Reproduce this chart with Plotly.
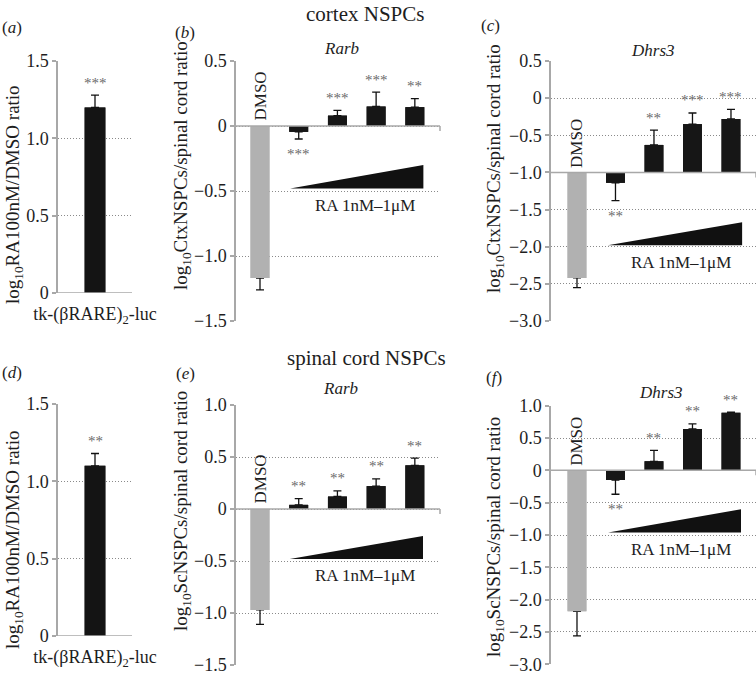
import plotly.graph_objects as go

W, H = 756, 676
FONT = "Liberation Serif, Times New Roman, serif"
TXT = "#1e1e1e"
AXIS = "#a8a8a8"
GRID = "#8a8a8a"

# ---------------- data ----------------
# (a)/(d) reporter assay, one bar each
luc_label = "tk-(βRARE)<sub>2</sub>-luc"
luc_ctx = [1.20]
luc_ctx_err = [0.08]
luc_ctx_stars = ["***"]
luc_sc = [1.10]
luc_sc_err = [0.08]
luc_sc_stars = ["**"]

# (b),(c),(e),(f): DMSO then RA 1nM -> 1uM (4 doses)
groups = ["DMSO", "RA dose 1", "RA dose 2", "RA dose 3", "RA dose 4"]
rarb_ctx = [-1.17, -0.045, 0.08, 0.15, 0.145]
rarb_ctx_err = [0.09, 0.055, 0.04, 0.11, 0.065]
rarb_ctx_stars = ["", "***", "***", "***", "**"]
dhrs3_ctx = [-2.42, -1.14, -0.63, -0.35, -0.28]
dhrs3_ctx_err = [0.13, 0.24, 0.20, 0.15, 0.13]
dhrs3_ctx_stars = ["", "**", "**", "***", "***"]
rarb_sc = [-0.97, 0.04, 0.12, 0.22, 0.42]
rarb_sc_err = [0.14, 0.06, 0.055, 0.07, 0.07]
rarb_sc_stars = ["", "**", "**", "**", "**"]
dhrs3_sc = [-2.18, -0.15, 0.14, 0.64, 0.89]
dhrs3_sc_err = [0.38, 0.22, 0.17, 0.08, 0.01]
dhrs3_sc_stars = ["", "**", "**", "**", "**"]

# dose wedges (corner points in category / value units)
wedge_rarb_ctx_x = [0.78, 4.22, 4.22]
wedge_rarb_ctx_y = [-0.48, -0.48, -0.30]
wedge_dhrs3_ctx_x = [0.80, 4.29, 4.29]
wedge_dhrs3_ctx_y = [-1.98, -1.98, -1.67]
wedge_rarb_sc_x = [0.77, 4.21, 4.21]
wedge_rarb_sc_y = [-0.48, -0.48, -0.26]
wedge_dhrs3_sc_x = [0.81, 4.26, 4.26]
wedge_dhrs3_sc_y = [-0.96, -0.96, -0.60]

# y ticks
ticks_luc = [0, 0.5, 1.0, 1.5]
ticktext_luc = ["0", "0.5", "1.0", "1.5"]
ticks_rarb_ctx = [-1.5, -1.0, -0.5, 0, 0.5]
ticktext_rarb_ctx = ["−1.5", "−1.0", "−0.5", "0", "0.5"]
ticks_dhrs3_ctx = [-3.0, -2.5, -2.0, -1.5, -1.0, -0.5, 0, 0.5]
ticktext_dhrs3_ctx = ["−3.0", "−2.5", "−2.0", "−1.5", "−1.0", "−0.5", "0", "0.5"]
ticks_rarb_sc = [-1.5, -1.0, -0.5, 0, 0.5, 1.0]
ticktext_rarb_sc = ["−1.5", "−1.0", "−0.5", "0", "0.5", "1.0"]
ticks_dhrs3_sc = [-3.0, -2.5, -2.0, -1.5, -1.0, -0.5, 0, 0.5, 1.0]
ticktext_dhrs3_sc = ["−3.0", "−2.5", "−2.0", "−1.5", "−1.0", "−0.5", "0", "0.5", "1.0"]

title_luc = "log<sub>10</sub>RA100nM/DMSO ratio"
title_ctx = "log<sub>10</sub>CtxNSPCs/spinal cord ratio"
title_sc = "log<sub>10</sub>ScNSPCs/spinal cord ratio"

# ---------------- layout per panel (pixel boxes) ----------------
panels = [
    dict(letter="a", vals=luc_ctx, errs=luc_ctx_err, stars=luc_ctx_stars, base=0.0,
         ticks=ticks_luc, ticktext=ticktext_luc, yr=[0, 1.5], xr=[-0.5, 0.5],
         box=(58, 132, 61, 293), ytitle=title_luc, tpos=(14, 195), lpos=(12, 27)),
    dict(letter="b", vals=rarb_ctx, errs=rarb_ctx_err, stars=rarb_ctx_stars, base=0.0,
         ticks=ticks_rarb_ctx, ticktext=ticktext_rarb_ctx, yr=[-1.5, 0.5], xr=[-0.62, 4.65],
         box=(236, 440, 61, 321), ytitle=title_ctx, tpos=(182, 166), lpos=(185, 33),
         gene="Rarb", gpos=(341, 49), wedge=(wedge_rarb_ctx_x, wedge_rarb_ctx_y)),
    dict(letter="c", vals=dhrs3_ctx, errs=dhrs3_ctx_err, stars=dhrs3_ctx_stars, base=-1.0,
         ticks=ticks_dhrs3_ctx, ticktext=ticktext_dhrs3_ctx, yr=[-3.0, 0.5], xr=[-0.675, 4.65],
         box=(551, 756, 61, 321), ytitle=title_ctx, tpos=(495, 169), lpos=(491, 25),
         gene="Dhrs3", gpos=(653, 50), wedge=(wedge_dhrs3_ctx_x, wedge_dhrs3_ctx_y)),
    dict(letter="d", vals=luc_sc, errs=luc_sc_err, stars=luc_sc_stars, base=0.0,
         ticks=ticks_luc, ticktext=ticktext_luc, yr=[0, 1.5], xr=[-0.5, 0.5],
         box=(58, 132, 404, 636), ytitle=title_luc, tpos=(14, 540), lpos=(12, 372)),
    dict(letter="e", vals=rarb_sc, errs=rarb_sc_err, stars=rarb_sc_stars, base=0.0,
         ticks=ticks_rarb_sc, ticktext=ticktext_rarb_sc, yr=[-1.5, 1.0], xr=[-0.62, 4.65],
         box=(236, 440, 405, 665), ytitle=title_sc, tpos=(182, 511), lpos=(185, 373),
         gene="Rarb", gpos=(340, 388), wedge=(wedge_rarb_sc_x, wedge_rarb_sc_y)),
    dict(letter="f", vals=dhrs3_sc, errs=dhrs3_sc_err, stars=dhrs3_sc_stars, base=0.0,
         ticks=ticks_dhrs3_sc, ticktext=ticktext_dhrs3_sc, yr=[-3.0, 1.0], xr=[-0.675, 4.65],
         box=(551, 756, 405.7, 664.3), ytitle=title_sc, tpos=(495, 537), lpos=(494, 377),
         gene="Dhrs3", gpos=(661, 392), wedge=(wedge_dhrs3_sc_x, wedge_dhrs3_sc_y)),
]


def paper(px, py):
    return px / W, 1 - py / H


def label(fig, pos, text, size, angle=0):
    x, y = paper(*pos)
    fig.add_annotation(x=x, y=y, xref="paper", yref="paper", text=text, textangle=angle,
                       xanchor="center", yanchor="middle", showarrow=False,
                       font=dict(family=FONT, size=size, color=TXT))


fig = go.Figure()
layout = {}

for n, p in enumerate(panels, start=1):
    xid = "x" if n == 1 else f"x{n}"
    yid = "y" if n == 1 else f"y{n}"
    x0, x1, y0, y1 = p["box"]
    single = len(p["vals"]) == 1
    xs = list(range(len(p["vals"])))
    base = p["base"]
    bw = 0.28 if single else 0.49
    colors = ["#141414"] if single else ["#b1b1b1"] + ["#161616"] * (len(xs) - 1)
    up = [e if v >= base else 0 for v, e in zip(p["vals"], p["errs"])]
    dn = [e if v < base else 0 for v, e in zip(p["vals"], p["errs"])]
    lengths = [v - base for v in p["vals"]]

    # bars carrying the error whiskers, then the same bars on top to hide inner caps
    fig.add_trace(go.Bar(
        x=xs, y=lengths, base=base, width=bw, xaxis=xid, yaxis=yid,
        marker=dict(color=colors, line=dict(width=0)),
        error_y=dict(type="data", symmetric=False, array=up, arrayminus=dn,
                     color="#111111", thickness=1.3, width=4),
        hoverinfo="skip",
    ))
    fig.add_trace(go.Bar(
        x=xs, y=lengths, base=base, width=bw, xaxis=xid, yaxis=yid,
        marker=dict(color=colors, line=dict(width=0)), hoverinfo="skip",
    ))

    if p.get("wedge"):
        wx, wy = p["wedge"]
        fig.add_trace(go.Scatter(
            x=wx, y=wy, xaxis=xid, yaxis=yid, mode="lines", fill="toself",
            fillcolor="#111111", line=dict(width=0, color="#111111"), hoverinfo="skip",
        ))
        fig.add_annotation(x=2.7, y=wy[0], xref=xid, yref=yid, text="RA 1nM–1μM",
                           xanchor="center", yanchor="middle", showarrow=False, yshift=-17,
                           font=dict(family=FONT, size=17, color=TXT))
        fig.add_annotation(x=0, y=base, xref=xid, yref=yid, text="DMSO", textangle=-90,
                           xanchor="center", yanchor="bottom", showarrow=False, yshift=3,
                           font=dict(family=FONT, size=17, color=TXT))
        label(fig, p["gpos"], f"<i>{p['gene']}</i>", 17)

    # significance stars above / below the whiskers
    for i, (v, e, s) in enumerate(zip(p["vals"], p["errs"], p["stars"])):
        if not s:
            continue
        goes_up = v >= base
        fig.add_annotation(x=i, y=v + e if goes_up else v - e, xref=xid, yref=yid, text=s,
                           xanchor="center", yanchor="middle", showarrow=False,
                           yshift=12.5 if goes_up else -15,
                           font=dict(family=FONT, size=15, color="#6a6a6a"))

    # category baseline and its end tick
    fig.add_shape(type="line", xref=f"{xid} domain", yref=yid, x0=0, x1=1, y0=base, y1=base,
                  line=dict(color=AXIS, width=1.5))
    fig.add_shape(type="line", xref=f"{xid} domain", yref=yid, x0=1, x1=1,
                  ysizemode="pixel", yanchor=base, y0=0, y1=-5,
                  line=dict(color=AXIS, width=1.5))

    # y axis title and panel letter
    label(fig, p["tpos"], p["ytitle"], 19, angle=-90)
    label(fig, p["lpos"], f"(<i>{p['letter']}</i>)", 17)

    dx0, dy0 = paper(x0, y1)
    dx1, dy1 = paper(x1, y0)
    xa = dict(domain=[dx0, min(dx1, 1.0)], range=p["xr"], anchor=yid, showgrid=False,
              zeroline=False, showline=False, ticks="", fixedrange=True)
    if single:
        xa.update(tickvals=[0], ticktext=[luc_label], showticklabels=True, ticklabelstandoff=8,
                  tickfont=dict(family=FONT, size=18, color=TXT))
    else:
        xa.update(showticklabels=False)
    ya = dict(domain=[dy0, dy1], range=p["yr"], anchor=xid,
              tickvals=p["ticks"], ticktext=p["ticktext"],
              showgrid=True, gridcolor=GRID, griddash="1px,2px", gridwidth=1,
              showline=True, linecolor=AXIS, linewidth=1.5,
              ticks="outside", ticklen=4, tickcolor=AXIS, tickwidth=1.5,
              zeroline=False, tickfont=dict(family=FONT, size=18, color=TXT))
    layout["xaxis" if n == 1 else f"xaxis{n}"] = xa
    layout["yaxis" if n == 1 else f"yaxis{n}"] = ya

# section headings
label(fig, (365, 14), "cortex NSPCs", 21)
label(fig, (366, 358), "spinal cord NSPCs", 21)

fig.update_layout(
    width=W, height=H,
    margin=dict(l=0, r=0, t=0, b=0, pad=0, autoexpand=False),
    paper_bgcolor="white", plot_bgcolor="white",
    barmode="overlay", showlegend=False,
    font=dict(family=FONT, color=TXT),
    **layout,
)

fig.write_html("out.html", config={"displayModeBar": False},
               post_script="document.body.style.margin='0px';")
